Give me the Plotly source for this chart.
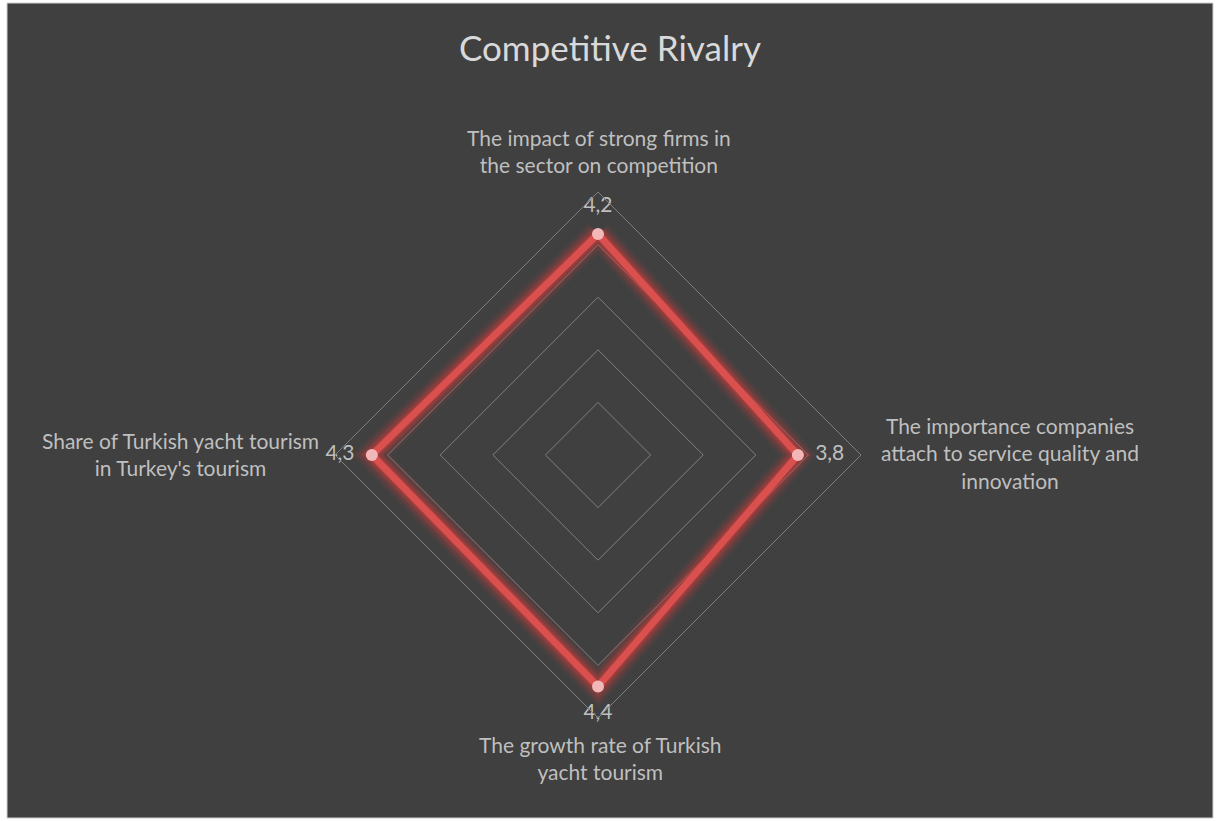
import plotly.graph_objects as go

W, H = 1217, 821

categories = [
    "The impact of strong firms in<br>the sector on competition",
    "The importance companies<br>attach to service quality and<br>innovation",
    "The growth rate of Turkish<br>yacht tourism",
    "Share of Turkish yacht tourism<br>in Turkey's tourism",
]
values = [4.2, 3.8, 4.4, 4.3]
value_labels = ["4,2", "3,8", "4,4", "4,3"]
title_text = "Competitive Rivalry"

BG = "#404040"
RED = "#d9504f"
TXT = "#bfbfbf"
FONT = "Lato, Open Sans, sans-serif"

theta = ["c0", "c1", "c2", "c3"]
theta_closed = theta + [theta[0]]
vals_closed = values + [values[0]]

fig = go.Figure()

# glow layers
for w, a in [(28, 0.08), (22, 0.14), (16, 0.22), (11, 0.3)]:
    fig.add_trace(go.Scatterpolar(
        r=vals_closed, theta=theta_closed, mode="lines",
        line=dict(color=f"rgba(225,60,60,{a})", width=w),
        hoverinfo="skip", showlegend=False))

fig.add_trace(go.Scatterpolar(
    r=vals_closed, theta=theta_closed, mode="lines",
    line=dict(color=RED, width=7), showlegend=False, hoverinfo="skip"))

fig.add_trace(go.Scatterpolar(
    r=values, theta=theta, mode="markers",
    marker=dict(color="#f2b8b8", size=12, line=dict(width=0)),
    showlegend=False))

# value labels (transparent, larger marker to push text off the point)
fig.add_trace(go.Scatterpolar(
    r=values, theta=theta, mode="markers+text",
    marker=dict(color="rgba(0,0,0,0)", size=26, line=dict(width=0)),
    text=value_labels,
    textposition=["top center", "middle right", "bottom center", "middle left"],
    textfont=dict(family=FONT, size=21, color=TXT),
    hoverinfo="skip", showlegend=False))

cx, cy, R = 598, 455, 263
fig.update_layout(
    width=W, height=H,
    margin=dict(l=0, r=0, t=0, b=0),
    paper_bgcolor="white",
    plot_bgcolor=BG,
    showlegend=False,
    polar=dict(
        domain=dict(x=[(cx - R) / W, (cx + R) / W],
                    y=[1 - (cy + R) / H, 1 - (cy - R) / H]),
        bgcolor=BG,
        gridshape="linear",
        radialaxis=dict(range=[0, 5], dtick=1, showticklabels=False, ticks="",
                        showline=False, gridcolor="#7f7f7f", gridwidth=1),
        angularaxis=dict(categoryorder="array", categoryarray=theta,
                         rotation=90, direction="clockwise",
                         showticklabels=False, ticks="", showgrid=False,
                         showline=True, linecolor="#7f7f7f", linewidth=1),
    ),
    shapes=[dict(type="rect", xref="paper", yref="paper",
                 x0=7 / W, x1=1213 / W, y0=1 - 818 / H, y1=1 - 3 / H,
                 fillcolor=BG, line=dict(color="#d0d0d0", width=1), layer="below")],
)

# category labels
label_pos = [(599, 151), (1010, 453), (600, 758), (180, 454)]
for txt, (x, y) in zip(categories, label_pos):
    fig.add_annotation(x=x / W, y=1 - y / H, xref="paper", yref="paper",
                       text=txt, showarrow=False, align="center",
                       xanchor="center", yanchor="middle",
                       font=dict(family=FONT, size=21, color=TXT))

fig.add_annotation(x=610 / W, y=1 - 47 / H, xref="paper", yref="paper",
                   text=title_text, showarrow=False, xanchor="center", yanchor="middle",
                   font=dict(family=FONT, size=35, color="#d9d9d9"))

fig.write_html("out.html", config={"displayModeBar": False},
               post_script="document.body.style.margin='0px';")
